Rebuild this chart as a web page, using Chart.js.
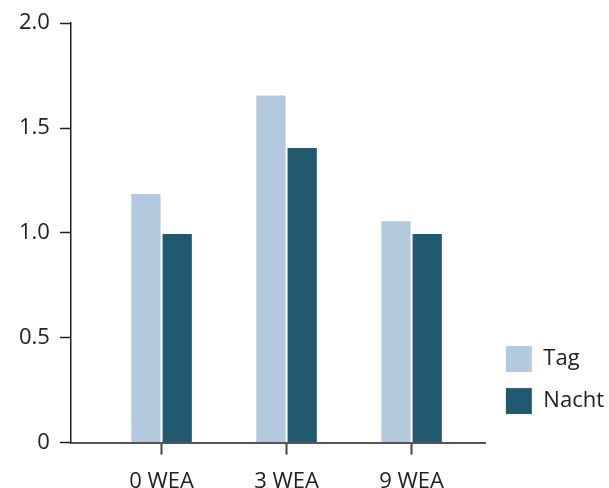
<!DOCTYPE html>
<html>
<head>
<meta charset="utf-8">
<script src="https://cdn.jsdelivr.net/npm/chart.js@4/dist/chart.umd.min.js"></script>
<style>
  html, body { margin: 0; padding: 0; background: #fff; }
  #wrap { width: 609px; height: 488px; position: relative; }
</style>
</head>
<body>
<div id="wrap"><canvas id="chart"></canvas></div>
<script>
const categories = ["0 WEA", "3 WEA", "9 WEA"];
const tagValues = [1.19, 1.66, 1.06];
const nachtValues = [1.0, 1.41, 1.0];
const yTicks = [0, 0.5, 1.0, 1.5, 2.0];

const toPoints = (vals) => vals.map((y, i) => ({ x: i, y: y }));

const ctx = document.getElementById("chart").getContext("2d");

Chart.defaults.font.family = "'Open Sans', 'Noto Sans', sans-serif";
Chart.defaults.font.size = 22;
Chart.defaults.color = "#222";

// move the legend column a bit up and right, like in the original
const legendShift = {
    id: "legendShift",
    afterLayout: (chart) => {
        const lg = chart.legend;
        if (!lg) return;
        lg.bottom -= 13;
        lg.left += 5;
        lg.right += 5;
    }
};

const config = {
    type: "bar",
    data: {
        datasets: [{
            label: "Tag",
            data: toPoints(tagValues),
            backgroundColor: "#b3c9dd",
            borderColor: "#ffffff",
            borderWidth: 1,
            borderSkipped: "bottom",
            categoryPercentage: 0.5,
            barPercentage: 1.0
        }, {
            label: "Nacht",
            data: toPoints(nachtValues),
            backgroundColor: "#21596e",
            borderColor: "#ffffff",
            borderWidth: 1,
            borderSkipped: "bottom",
            categoryPercentage: 0.5,
            barPercentage: 1.0
        }]
    },
    options: {
        responsive: true,
        maintainAspectRatio: false,
        animation: false,
        layout: {
            padding: { left: 9, top: 18, right: 0, bottom: -21 }
        },
        plugins: {
            tooltip: { enabled: false },
            legend: {
                position: "right",
                align: "end",
                fullSize: false,
                labels: {
                    boxWidth: 27,
                    boxHeight: 27,
                    padding: 15,
                    color: "#222",
                    font: { size: 22 }
                }
            }
        },
        scales: {
            x: {
                type: "linear",
                min: -0.725,
                max: 2.59,
                offset: false,
                afterBuildTicks: (scale) => {
                    scale.ticks = categories.map((_, i) => ({ value: i }));
                },
                ticks: {
                    autoSkip: false,
                    maxRotation: 0,
                    padding: 14,
                    color: "#222",
                    callback: (v) => categories[v]
                },
                grid: {
                    offset: false,
                    drawOnChartArea: false,
                    drawTicks: true,
                    tickLength: 12,
                    tickColor: "#444",
                    tickWidth: 2
                },
                border: { display: true, color: "#555", width: 2 }
            },
            y: {
                min: 0,
                max: 2,
                afterBuildTicks: (scale) => {
                    scale.ticks = yTicks.map((v) => ({ value: v }));
                },
                ticks: {
                    padding: 10,
                    color: "#222",
                    callback: (v) => v === 0 ? "0" : v.toFixed(1)
                },
                grid: {
                    drawOnChartArea: false,
                    drawTicks: true,
                    tickLength: 11,
                    tickColor: "#222",
                    tickWidth: 1.5
                },
                border: { display: true, color: "#222", width: 1.5 }
            }
        }
    },
    plugins: [legendShift]
};

new Chart(ctx, config);
</script>
</body>
</html>
